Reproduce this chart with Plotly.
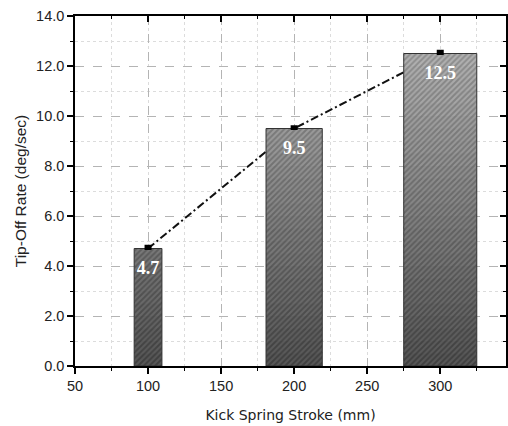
import plotly.graph_objects as go

# ---- data ----
strokes = [100, 200, 300]          # Kick spring stroke (mm)
tip_off = [4.7, 9.5, 12.5]         # Tip-off rate (deg/sec)
err_plus = [0.09, 0.07, 0.09]      # upper error
err_minus = [0.0, 0.0, 0.0]        # lower error (hidden by bar)
bar_widths = [19, 38.5, 50]        # bar widths in x units
labels = [f"{v:.1f}" for v in tip_off]

X_RANGE = [50, 345]
Y_RANGE = [0, 14]

def lerp(a, b, t):
    return int(round(a + (b - a) * t))

def gray(v):
    return f"rgb({v},{v},{v})"

fig = go.Figure()

# gradient hatched bars: split into horizontal bands (main axes)
band_h = 0.5
overlap = 0.06
n_bands = int(Y_RANGE[1] / band_h)
for k in range(n_bands):
    lo = k * band_h
    seg = [max(0.0, min(v, lo + band_h + overlap) - lo) for v in tip_off]
    if max(seg) <= 0:
        continue
    t = (lo + band_h / 2) / Y_RANGE[1]
    bg = lerp(85, 190, t)
    fg = lerp(40, 115, t)
    fig.add_trace(go.Bar(
        x=strokes, y=seg, base=[lo] * len(strokes), width=bar_widths,
        marker=dict(color=gray(bg), line=dict(width=0),
                    pattern=dict(shape="/", fgcolor=gray(fg), bgcolor=gray(bg),
                                 size=4, solidity=0.5)),
        xaxis="x", yaxis="y", showlegend=False, hoverinfo="skip"))

# outline + error bars
fig.add_trace(go.Bar(
    x=strokes, y=tip_off, width=bar_widths,
    marker=dict(color="rgba(0,0,0,0)", line=dict(color="#333333", width=1)),
    error_y=dict(type="data", symmetric=False, array=err_plus, arrayminus=err_minus,
                 color="#000000", thickness=3, width=3.5),
    xaxis="x", yaxis="y", showlegend=False, hoverinfo="skip"))

# value labels inside bars
fig.add_trace(go.Scatter(
    x=strokes, y=[v - 0.85 for v in tip_off], mode="text", text=labels,
    textfont=dict(family="Liberation Serif", size=18, color="white", weight="bold"),
    xaxis="x", yaxis="y", showlegend=False, hoverinfo="skip"))

# invisible anchor trace for the mirrored top/right axes
fig.add_trace(go.Scatter(
    x=strokes, y=tip_off, mode="markers", marker=dict(opacity=0),
    xaxis="x2", yaxis="y2", showlegend=False, hoverinfo="skip"))

# dash-dot trend line through the data, drawn between gridlines and traces
trend_path = "M " + " L ".join(f"{x},{y}" for x, y in zip(strokes, tip_off))
fig.add_shape(type="path", path=trend_path, xref="x", yref="y", layer="between",
              line=dict(color="#111111", width=2, dash="8px,3px,2px,3px"))

tickfont = dict(family="Liberation Sans", size=14.5, color="#222222")
grid_major = dict(showgrid=True, gridcolor="#b4b4b4", griddash="dash", gridwidth=1)

fig.update_layout(
    width=508, height=426,
    margin=dict(l=75, r=2, t=16, b=60, autoexpand=False),
    paper_bgcolor="white", plot_bgcolor="white",
    barmode="overlay", showlegend=False,
    xaxis=dict(
        range=X_RANGE, tickmode="array", tickvals=[50, 100, 150, 200, 250, 300],
        ticks="outside", ticklen=6, tickwidth=1.5, tickcolor="black",
        showline=True, linecolor="black", linewidth=1.5, automargin=False,
        tickfont=tickfont, zeroline=False, **grid_major,
        minor=dict(dtick=25, tick0=50, ticks="outside", ticklen=3, tickwidth=1.2,
                   tickcolor="black", showgrid=True, gridcolor="#dcdcdc",
                   griddash="dot", gridwidth=1),
        title=dict(text="Kick Spring Stroke (mm)", standoff=17,
                   font=dict(family="DejaVu Sans", size=14, color="#222222")),
    ),
    yaxis=dict(
        range=Y_RANGE, dtick=2, tick0=0, tickformat=".1f",
        ticks="outside", ticklen=6, tickwidth=1.5, tickcolor="black",
        showline=True, linecolor="black", linewidth=1.5, automargin=False,
        tickfont=tickfont, zeroline=False, **grid_major,
        minor=dict(dtick=1, ticks="outside", ticklen=3, tickwidth=1.2,
                   tickcolor="black", showgrid=True, gridcolor="#dcdcdc",
                   griddash="dot", gridwidth=1),
        title=dict(text="Tip-Off Rate (deg/sec)", standoff=6,
                   font=dict(family="Liberation Sans", size=15.5, color="#222222")),
    ),
    xaxis2=dict(
        range=X_RANGE, overlaying="x", side="top", anchor="y2",
        tickvals=[50, 100, 150, 200, 250, 300], automargin=False,
        ticks="inside", ticklen=6, tickwidth=1.5, tickcolor="black",
        showticklabels=False, showline=True, linecolor="black", linewidth=1.5,
        showgrid=False, zeroline=False,
        minor=dict(dtick=25, tick0=50, ticks="inside", ticklen=3, tickwidth=1.2,
                   tickcolor="black", showgrid=False),
    ),
    yaxis2=dict(
        range=Y_RANGE, overlaying="y", side="right", anchor="x2", dtick=2,
        ticks="inside", ticklen=6, tickwidth=1.5, tickcolor="black", automargin=False,
        showticklabels=False, showline=True, linecolor="black", linewidth=1.5,
        showgrid=False, zeroline=False,
        minor=dict(dtick=1, ticks="inside", ticklen=3, tickwidth=1.2,
                   tickcolor="black", showgrid=False),
    ),
)

fig.write_html("out.html", config={"displayModeBar": False},
               post_script="document.body.style.margin='0';document.body.style.overflow='hidden';")
